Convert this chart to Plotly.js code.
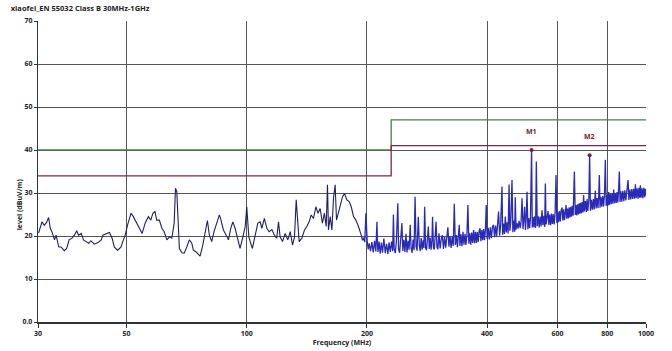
<!DOCTYPE html>
<html>
<head>
<meta charset="utf-8">
<script src="https://cdn.plot.ly/plotly-3.0.1.min.js"></script>
<style>
html,body{margin:0;padding:0;background:#fff;}
#chart{width:672px;height:351px;}
</style>
</head>
<body>
<div id="chart"></div>
<script>
// ---- Data ----
const chartTitle = 'xiaofei_EN 55032 Class B 30MHz-1GHz';
const xTickVals = [30, 50, 100, 200, 400, 600, 800, 1000];
const xTickText = ['30', '50', '100', '200', '400', '600', '800', '1000'];
const yTickVals = [0, 10, 20, 30, 40, 50, 60, 70];
const yTickText = ['0.0', '10', '20', '30', '40', '50', '60', '70'];

// limit lines (MHz / dBuV/m)
const limitFreq = [30, 230, 230, 1000];
const limitGreen = [40, 40, 47, 47];
const limitRed = [34, 34, 41, 41];

// markers
const markerNames = ['M1', 'M2'];
const markerFreq = [516.9, 722.4];
const markerLevel = [40.0, 38.8];

// scan, low band (navy)
const scanFreqLow = [30.1,30.7,31.1,31.5,31.9,32.2,32.5,33.0,33.3,33.8,34.3,34.9,35.4,35.9,36.5,37.0,37.5,37.9,38.5,39.0,39.6,40.2,40.7,41.5,42.3,43.2,43.6,44.4,45.3,46.0,46.6,47.5,48.4,49.1,49.6,50.3,51.3,52.0,52.8,53.8,54.7,55.7,56.7,57.5,58.2,58.9,59.5,60.4,61.3,62.1,63.1,64.0,64.9,65.8,66.3,66.8,67.3,67.8,68.8,69.7,70.8,71.8,72.8,73.5,74.7,75.7,76.4,77.6,78.6,79.7,80.6,81.7,82.8,84.1,85.4,86.2,87.4,88.8,90.0,91.2,92.3,93.5,94.8,96.2,97.8,99.1,100.0,101.2,102.0,103.3,105.0,106.6,108.0,109.1,110.7,112.3,113.8,115.6,117.3,118.9,120.1,121.2,122.9,124.8,126.7,128.5,130.2,131.7,133.0,134.0,135.3,137.4,139.5,141.4,143.3,145.0,146.9,149.0,150.7,152.7,154.7,156.5,158.1,159.3,160.2,161.8,163.4,164.9,166.5,167.8,169.7,171.4,173.7,175.7,178.2,180.5,182.7,185.1,187.6,190.5,193.5];
const scanLevelLow = [20.7,23.3,22.5,23.1,24.3,21.8,21.0,19.1,20.2,17.5,17.4,16.6,17.1,19.1,19.5,20.2,21.2,20.2,20.6,19.1,18.7,18.3,18.9,18.1,18.4,19.1,20.2,20.5,20.8,19.5,17.4,16.7,17.4,19.1,20.2,22.6,25.3,24.5,23.3,22.2,20.6,23.1,24.5,23.7,25.3,25.7,23.7,23.7,21.8,21.0,19.1,19.8,19.5,23.0,31.1,30.3,21.4,17.1,16.1,16.0,17.5,19.1,18.4,16.7,16.3,15.6,15.3,17.9,21.0,23.6,20.2,18.7,21.0,23.0,24.9,23.7,21.4,20.2,19.1,21.8,23.3,21.8,19.5,17.1,19.8,22.2,26.8,19.8,18.7,17.1,20.2,23.0,23.3,21.8,24.1,21.8,21.0,21.5,20.2,19.5,23.3,19.8,18.7,20.6,19.1,21.0,17.9,19.8,28.4,23.7,18.7,19.5,21.4,22.2,23.3,24.9,24.1,26.8,25.3,26.4,23.0,25.3,22.2,31.9,21.4,24.5,21.4,28.8,31.9,23.7,25.3,26.8,29.1,29.9,28.4,28.0,26.8,24.5,23.7,22.2,20.2];

// scan, high band (blue, dense)
const scanFreqHigh = [193.5,195.0,196.1,197.5,198.8,199.5,200.3,201.5,202.6,204.2,205.8,207.4,209.0,210.5,211.9,212.6,213.1,214.5,215.9,217.3,218.8,220.5,222.3,224.0,225.7,227.2,228.8,230.5,232.0,233.0,234.0,235.5,237.0,239.0,240.0,241.5,243.0,244.7,246.0,247.5,249.0,250.5,252.0,253.5,255.0,256.7,258.0,259.5,261.0,262.5,264.0,265.5,267.0,269.0,270.5,272.0,273.5,275.0,276.5,277.8,279.0,280.5,282.0,283.5,285.0,286.5,288.0,289.5,291.0,292.0,293.5,295.0,296.5,298.0,299.5,301.0,303.0,305.0,307.0,309.0,311.0,313.0,315.0,317.0,319.0,321.0,323.0,325.0,327.0,329.0,331.0,333.0,335.0,337.0,339.0,340.6,342.0,344.0,346.0,348.0,350.0,352.0,354.0,356.0,358.0,360.0,362.0,364.0,366.0,368.0,370.0,372.0,374.0,376.0,378.0,380.0,382.0,384.0,386.0,388.0,390.0,392.0,394.0,396.0,398.0,400.0,402.5,405.0,407.5,410.0,412.5,415.0,417.5,420.0,422.5,425.0,427.3,430.0,432.5,435.8,437.5,440.0,442.0,444.2,446.5,449.0,451.5,454.0,456.0,458.5,461.7,464.0,466.5,469.0,470.5,472.5,475.0,478.0,481.0,484.0,486.5,489.3,492.0,494.5,496.6,499.0,501.0,503.5,506.0,508.5,511.0,513.5,516.9,519.0,521.5,524.0,526.5,529.0,531.3,534.0,537.0,540.0,543.0,546.0,549.0,552.0,555.0,557.5,559.6,562.0,565.0,568.3,571.0,574.0,577.0,580.0,583.0,586.0,589.0,592.0,595.2,598.0,601.0,604.0,607.0,610.0,613.0,616.2,619.0,622.0,625.0,628.0,630.7,633.0,636.0,639.0,642.0,645.0,648.0,651.0,654.0,657.0,661.6,665.0,668.0,671.0,674.0,677.0,680.0,683.0,686.0,689.0,692.0,695.0,697.9,701.0,705.0,709.0,711.8,715.0,719.0,722.4,726.0,730.0,734.0,738.0,742.0,746.6,750.0,754.0,758.0,761.0,764.1,767.0,771.0,775.0,779.0,783.0,787.0,791.0,795.0,799.0,803.0,806.4,810.0,814.0,818.0,822.0,826.0,830.0,834.0,838.0,842.0,846.0,850.0,853.0,857.5,861.0,865.0,870.0,875.0,880.0,885.0,890.0,895.0,901.7,906.0,911.0,916.0,921.0,926.0,931.0,936.0,940.6,945.0,950.0,955.0,960.0,964.0,968.1,972.0,977.0,982.0,987.0,992.0,996.0,1000.0];
const scanLevelHigh = [
  20.2,19.0,19.6,18.6,25.3,18.9,18.7,16.9,18.3,16.5,18.6,16.2,18.9,16.4,23.3,18.0,16.3,18.7,15.9,18.5,
  16.1,19.4,16.0,18.2,15.8,18.5,16.3,18.7,16.5,25.0,17.0,16.0,18.8,27.6,16.9,16.1,19.0,23.0,16.5,19.1,
  16.3,20.5,16.2,18.9,16.8,22.6,17.2,16.1,19.2,16.7,29.1,17.5,16.6,24.5,17.9,16.5,19.5,16.8,19.0,17.2,
  26.8,17.3,16.7,19.4,22.2,17.0,19.6,16.8,19.0,24.5,17.2,16.9,19.7,23.3,17.4,16.9,20.6,17.1,19.3,20.2,
  17.0,19.8,17.3,19.5,22.0,17.5,20.0,17.2,19.8,17.7,27.5,17.9,20.2,17.4,19.9,22.6,17.7,20.4,17.6,21.0,
  18.0,20.5,17.9,20.2,27.2,18.2,20.6,18.0,20.8,18.4,21.4,18.3,21.0,18.4,20.9,18.6,21.2,21.8,18.8,21.4,
  19.0,21.6,19.0,21.3,27.2,19.3,21.9,19.2,22.0,19.5,22.1,22.6,19.7,22.4,19.8,22.2,25.7,20.1,22.6,31.5,
  20.3,22.9,20.5,24.5,20.8,23.2,20.6,32.0,21.2,23.4,33.0,20.9,23.6,21.0,29.0,21.5,23.0,21.7,23.5,21.8,
  23.4,28.8,21.6,24.0,26.8,21.4,23.9,30.3,21.6,24.2,21.8,24.1,40.0,22.0,24.4,22.0,24.6,21.9,37.3,22.3,
  24.6,22.0,24.5,22.2,26.0,22.5,24.7,22.1,32.2,22.7,24.9,25.8,22.6,25.0,22.5,25.2,22.8,25.1,22.7,25.4,
  34.2,23.0,25.6,23.2,25.8,23.4,26.0,26.6,23.6,26.2,23.7,26.3,27.2,24.0,26.4,24.1,26.7,24.3,26.8,24.5,
  27.0,24.7,35.0,24.9,27.2,24.8,27.4,25.0,27.6,25.2,27.7,25.3,27.9,25.5,29.5,25.7,28.1,25.6,28.6,25.8,
  28.3,38.8,25.9,28.4,26.1,28.6,26.2,30.5,26.4,28.8,26.5,29.0,34.2,26.6,29.1,26.8,29.3,26.9,29.4,37.7,
  27.0,29.5,27.1,30.2,27.2,29.8,27.4,29.9,27.5,30.8,27.6,30.0,27.7,30.2,27.8,30.1,35.0,27.9,30.4,28.0,
  30.5,28.1,30.6,28.3,30.7,33.0,28.4,30.8,28.5,30.9,28.6,31.0,28.7,32.0,28.8,31.1,28.7,31.2,28.9,31.8,
  28.9,31.1,28.8,31.2,29.0,31.0,29.4];

// ---- Chart ----
const fontFam = '"Open Sans", "Liberation Sans", Arial, sans-serif';
const traces = [
  {x: limitFreq, y: limitGreen, type: 'scatter', mode: 'lines',
   line: {color: '#4c7a4c', width: 1.3}, hoverinfo: 'skip'},
  {x: limitFreq, y: limitRed, type: 'scatter', mode: 'lines',
   line: {color: '#7a2a40', width: 1.3}, hoverinfo: 'skip'},
  {x: scanFreqLow, y: scanLevelLow, type: 'scatter', mode: 'lines',
   line: {color: '#1f1f66', width: 1.1}},
  {x: scanFreqHigh, y: scanLevelHigh, type: 'scatter', mode: 'lines',
   line: {color: '#2a2ab8', width: 1.3}},
  {x: markerFreq, y: markerLevel, type: 'scatter', mode: 'markers',
   marker: {color: '#8a1c2c', size: 4}}
];

const annotations = markerNames.map((n, i) => ({
  x: Math.log10(markerFreq[i]), y: markerLevel[i], xref: 'x', yref: 'y',
  text: n, showarrow: false, yshift: 19,
  font: {family: fontFam, size: 7, color: '#7a1a2a', weight: 'bold'}
}));
annotations.push({
  x: -0.03, y: 0.39, xref: 'paper', yref: 'paper', text: 'level (dBuV/m)',
  textangle: -90, showarrow: false, xanchor: 'center', yanchor: 'middle',
  font: {family: fontFam, size: 7, color: '#222', weight: 'bold'}
});

const layout = {
  width: 672, height: 351,
  margin: {l: 38, r: 26, t: 21, b: 29, pad: 0},
  paper_bgcolor: '#fff', plot_bgcolor: '#fff',
  showlegend: false,
  title: {text: chartTitle, xref: 'container', yref: 'container',
          x: 0.016, xanchor: 'left', y: 0.975, yanchor: 'middle',
          font: {family: fontFam, size: 7.5, color: '#222', weight: 'bold'}},
  font: {family: fontFam, size: 7, color: '#222'},
  xaxis: {
    type: 'log', range: [Math.log10(30), Math.log10(1000)],
    tickvals: xTickVals, ticktext: xTickText,
    ticks: 'outside', ticklen: 4, tickcolor: '#333', tickwidth: 1,
    showgrid: true, gridcolor: '#555', gridwidth: 1,
    showline: true, linecolor: '#333', linewidth: 1.5, mirror: false,
    zeroline: false,
    tickfont: {family: fontFam, size: 7, color: '#222', weight: 'bold'},
    title: {text: 'Frequency (MHz)', standoff: 3,
            font: {family: fontFam, size: 7, color: '#222', weight: 'bold'}}
  },
  yaxis: {
    range: [0, 70], tickvals: yTickVals, ticktext: yTickText,
    ticks: 'outside', ticklen: 3, tickcolor: '#333', tickwidth: 1,
    showgrid: true, gridcolor: '#555', gridwidth: 1,
    showline: true, linecolor: '#333', linewidth: 1.2, mirror: false,
    zeroline: false,
    tickfont: {family: fontFam, size: 7, color: '#222', weight: 'bold'}
  },
  annotations: annotations
};

Plotly.newPlot('chart', traces, layout, {staticPlot: true, displayModeBar: false});
</script>
</body>
</html>
